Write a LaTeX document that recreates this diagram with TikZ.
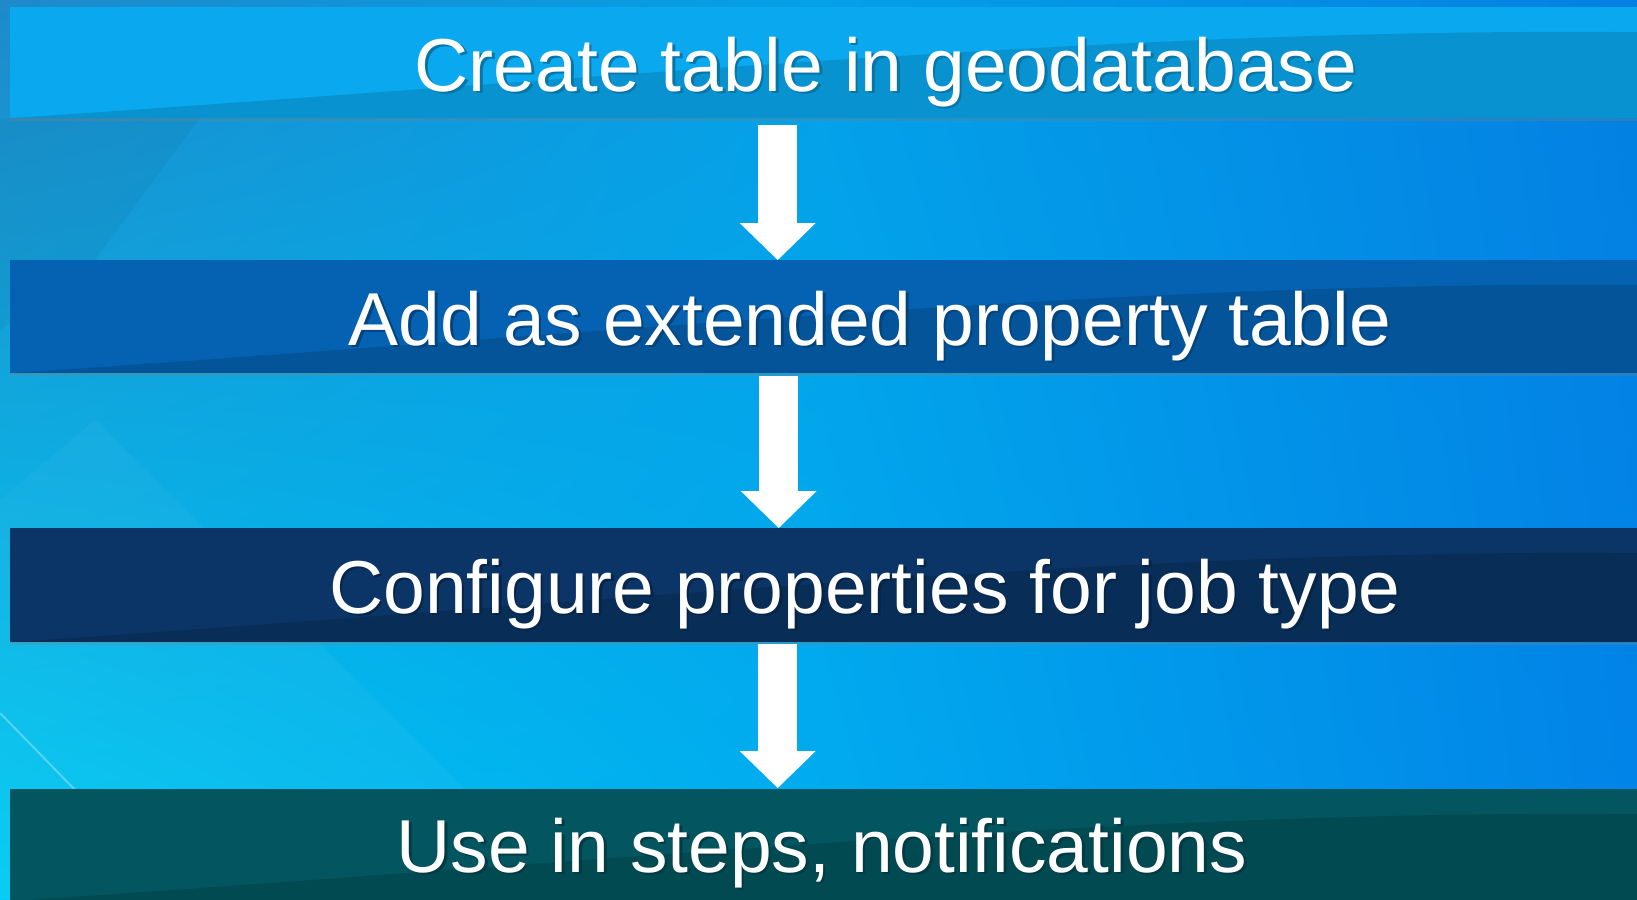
\documentclass[tikz,border=0pt]{standalone}
\usepackage{fontspec}
\setmainfont{Liberation Sans}
\usetikzlibrary{arrows.meta,calc,shadows,shadings}
\definecolor{bgUL}{HTML}{1E8ACA}
\definecolor{bgUM}{HTML}{04A0E8}
\definecolor{bgUR}{HTML}{0480E2}
\definecolor{bgLL}{HTML}{00CCF4}
\definecolor{bgLM}{HTML}{00ACF0}
\definecolor{bgLR}{HTML}{0084E8}
\definecolor{barA}{HTML}{0AA8EE}
\definecolor{barB}{HTML}{0561B2}
\definecolor{barC}{HTML}{0A3566}
\definecolor{barD}{HTML}{03555F}
\newcommand{\shadowtext}[2]{\makebox[0pt][l]{\raisebox{-2.5pt}{\kern2.5pt\textcolor{#1}{#2}}}#2}
\tikzset{
  barbox/.style={draw=none, fill=#1, rectangle, inner sep=0pt, anchor=north west,
    minimum width=1627pt,
    drop shadow={shadow xshift=0pt, shadow yshift=-3pt, opacity=0.3},
    path picture={\fill[black, opacity=0.13]
      (path picture bounding box.south west)
      .. controls ([xshift=600pt,yshift=40pt]path picture bounding box.south west)
      and ([xshift=-500pt,yshift=-20pt]path picture bounding box.north east) ..
      ([yshift=-25pt]path picture bounding box.north east)
      -- (path picture bounding box.south east) -- cycle;}},
  bartext/.style={text=white, anchor=base, inner sep=0pt,
    font=\fontsize{75}{90}\selectfont},
  flowarrow/.style={draw=white, line width=39pt,
    -{Triangle[length=37pt, width=76pt, line width=0pt]}}
}
\begin{document}
\begin{tikzpicture}[x=1pt, y=-1pt]
\useasboundingbox (0,0) rectangle (1637,899);
% background
\shade[upper left=bgUL, upper right=bgUM, lower left=bgLL, lower right=bgLM]
  (0,0) rectangle (821,899);
\shade[upper left=bgUM, upper right=bgUR, lower left=bgLM, lower right=bgLR]
  (820,0) rectangle (1637,899);
\fill[white, opacity=0.035] (95,420) -- (0,500) -- (0,899) -- (575,899) -- cycle;
\fill[black, opacity=0.04] (0,118) -- (200,118) -- (95,260) -- (0,330) -- cycle;
\draw[white, opacity=0.3, line width=2pt] (0,713) -- (80,795);
% bars
\node[barbox=barA, minimum height=111pt] (b1) at (10,7) {};
\node[barbox=barB, minimum height=113pt] (b2) at (10,260) {};
\node[barbox=barC, minimum height=114pt] (b3) at (10,528) {};
\node[barbox=barD, minimum height=112pt] (b4) at (10,789) {};
% texts
\node[bartext] (t1) at (886,91) {\shadowtext{barA!70!black}{Create table in geodatabase}};
\node[bartext] (t2) at (870,345) {\shadowtext{barB!70!black}{Add as extended property table}};
\node[bartext] (t3) at (865,613) {\shadowtext{barC!70!black}{Configure properties for job type}};
\node[bartext] (t4) at (822,872) {\shadowtext{barD!70!black}{Use in steps, notifications}};
% arrows
\draw[flowarrow, shorten <=7pt] ($(b1.south)+(-46,0)$) -- ($(b2.north)+(-46,0)$);
\draw[flowarrow, shorten <=3pt] ($(b2.south)+(-45,0)$) -- ($(b3.north)+(-45,0)$);
\draw[flowarrow, shorten <=2pt] ($(b3.south)+(-46,0)$) -- ($(b4.north)+(-46,-1)$);
\end{tikzpicture}
\end{document}
